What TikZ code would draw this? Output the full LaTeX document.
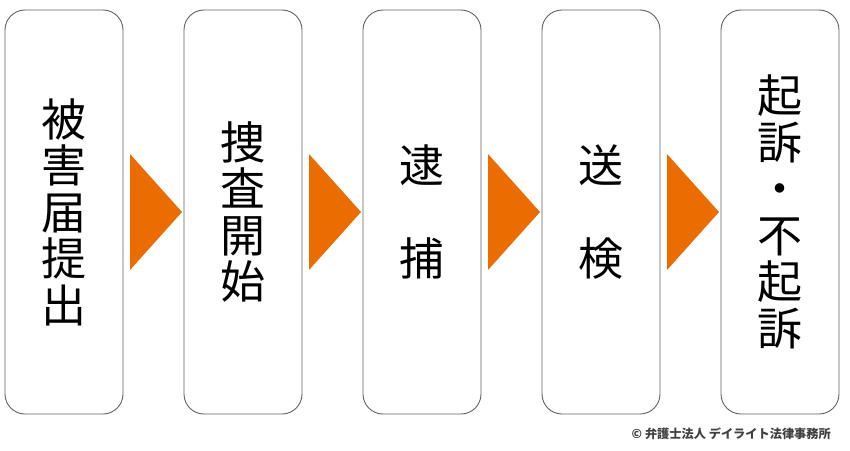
\documentclass[tikz,border=0pt]{standalone}
\usepackage{fontspec}
\newfontfamily\jp{Noto Sans CJK JP}
\definecolor{boxline}{HTML}{606060}
\definecolor{arroworange}{HTML}{EB6C00}
\definecolor{copygray}{HTML}{404040}
\begin{document}
\begin{tikzpicture}[x=1pt,y=-1pt,
  stepbox/.style={draw=boxline, line width=0.9pt, rounded corners=20pt,
    minimum width=118pt, minimum height=404pt, inner sep=0pt,
    align=center, font=\jp\fontsize{45}{46.5}\selectfont},
  arrowfill/.style={fill=arroworange}]
\useasboundingbox (0,0) rectangle (850,450);
\node[stepbox] (b1) at (64,212) {被\\害\\届\\提\\出};
\node[stepbox] (b2) at (243,212) {捜\\査\\開\\始};
\node[stepbox] (b3) at (422,212) {逮\\~\\捕};
\node[stepbox] (b4) at (601,212) {送\\~\\検};
\node[stepbox] (b5) at (780,212) {起\\訴\\・\\不\\起\\訴};
\foreach \i in {0,1,2,3}{
  \fill[arrowfill] (130+179*\i,154) -- (182+179*\i,212) -- (130+179*\i,270) -- cycle;
}
\node[anchor=east, inner sep=0pt, text=copygray, font=\jp\bfseries\fontsize{12.2}{13}\selectfont] (copy) at (831,433.5) {© 弁護士法人 デイライト法律事務所};
\end{tikzpicture}
\end{document}
